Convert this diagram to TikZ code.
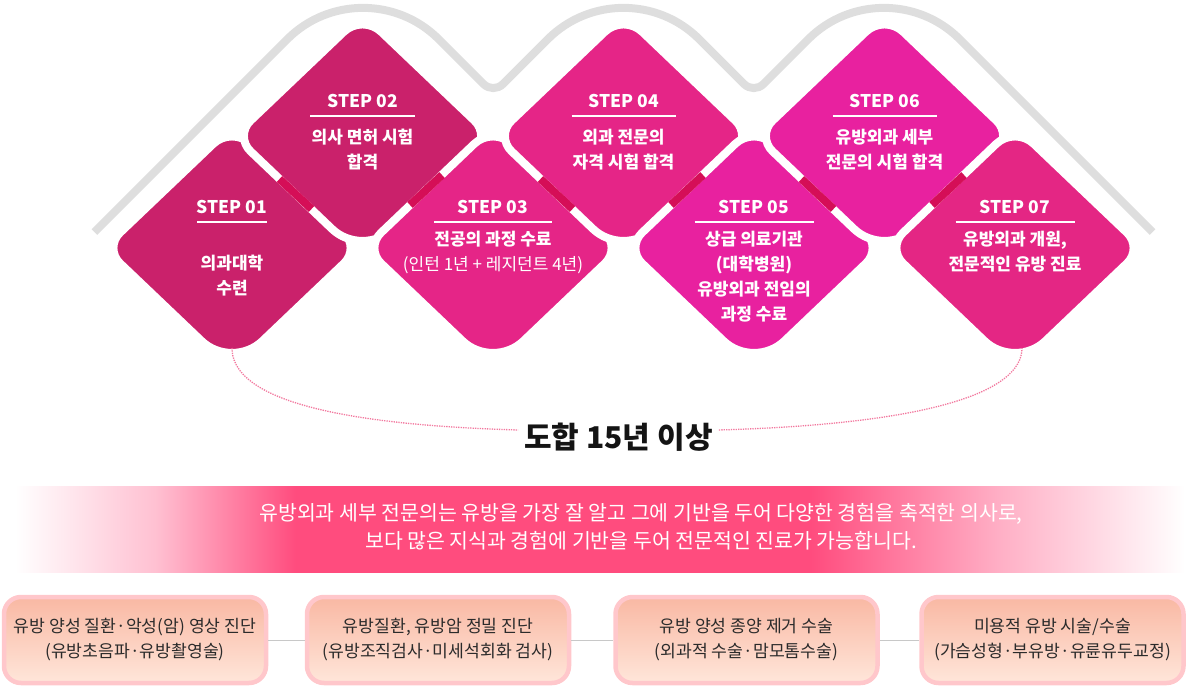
\documentclass[tikz,border=0pt]{standalone}
\usepackage{fontspec}
\setmainfont{Noto Sans CJK KR}
\usepackage{tikz}
\usetikzlibrary{calc}
\usepackage{xcolor}
\definecolor{stepcrimson}{HTML}{CA216B}
\definecolor{steprose}{HTML}{E52587}
\definecolor{stepfuchsia}{HTML}{E8219F}
\definecolor{steplast}{HTML}{E42684}
\definecolor{ribbonred}{HTML}{D50E57}
\definecolor{wavegray}{HTML}{DEDEDE}
\definecolor{spanpink}{HTML}{F2789E}
\definecolor{bandpink}{HTML}{FF4C7E}
\definecolor{boxrim}{HTML}{FFC7CB}
\definecolor{boxtop}{HTML}{F9B8A3}
\definecolor{boxbottom}{HTML}{FFE6DA}
\definecolor{boxink}{HTML}{2B2B2B}
\definecolor{linkgray}{HTML}{C8C8C8}
\pgfdeclarehorizontalshading{bandfade}{100bp}{color(0bp)=(white);
  color(25bp)=(white); color(31bp)=(bandpink!35); color(37bp)=(bandpink);
  color(59bp)=(bandpink); color(67bp)=(bandpink!45); color(75bp)=(white);
  color(100bp)=(white)}

\begin{document}
\begin{tikzpicture}[x=1pt,y=-1pt,
  stepshape/.pic={
    \filldraw[fill=#1,draw=white,line width=8pt] ($(0,-122)!26pt!(128,0)$)
      -- ($(128,0)!22pt!(0,-122)$)
      .. controls ($(128,0)!10pt!(0,-122)$) and ($(128,0)!10pt!(0,122)$)
      .. ($(128,0)!22pt!(0,122)$)
      -- ($(0,122)!42pt!(128,0)$)
      .. controls ($(0,122)!19pt!(128,0)$) and ($(0,122)!19pt!(-128,0)$)
      .. ($(0,122)!42pt!(-128,0)$)
      -- ($(-128,0)!22pt!(0,122)$)
      .. controls ($(-128,0)!10pt!(0,122)$) and ($(-128,0)!10pt!(0,-122)$)
      .. ($(-128,0)!22pt!(0,-122)$)
      -- ($(0,-122)!26pt!(-128,0)$)
      .. controls ($(0,-122)!11.5pt!(-128,0)$) and ($(0,-122)!11.5pt!(128,0)$)
      .. ($(0,-122)!26pt!(128,0)$) -- cycle;
  },
  stepribbon/.style={draw=ribbonred,line width=8pt},
  steplabel/.style={text=white,inner sep=0pt,
    font=\bfseries\fontsize{17.5}{22}\selectfont},
  steptext/.style={text=white,inner sep=0pt,anchor=north,align=center,
    font=\bfseries\fontsize{17}{25}\selectfont},
  steprule/.style={white,line width=1.2pt},
  waveband/.style={draw=wavegray,line width=8pt},
  spanline/.style={draw=spanpink,line width=1.3pt,
    dash pattern=on 1.3pt off 1.1pt},
  spantitle/.style={font=\bfseries\fontsize{30}{34}\selectfont,
    text=black!92,inner sep=6pt},
  mottotext/.style={text=white,align=center,inner sep=0pt,
    font=\fontsize{20.5}{28}\selectfont},
  servicebox/.style={draw=boxrim,line width=4.5pt,rounded corners=17pt,
    top color=boxtop,bottom color=boxbottom,minimum width=262pt,
    minimum height=86pt,align=center,text=boxink,inner sep=0pt,
    font=\fontsize{17.2}{25}\selectfont},
  servicelink/.style={draw=linkgray,line width=0.9pt}
]
  \useasboundingbox (0,0) rectangle (1204,688);

  % grey wave behind the steps
  \coordinate (wl) at (94.5,232);
  \coordinate (wp1) at (363,-36.5);
  \coordinate (wv1) at (493.25,93.75);
  \coordinate (wp2) at (623.5,-36.5);
  \coordinate (wv2) at (753.75,93.75);
  \coordinate (wp3) at (884,-36.5);
  \coordinate (wr) at (1152.5,232);
  \draw[waveband] (wl) -- ($(wp1)!107pt!(wl)$)
    .. controls ($(wp1)!48pt!(wl)$) and ($(wp1)!48pt!(wv1)$)
    .. ($(wp1)!107pt!(wv1)$) -- ($(wv1)!14pt!(wp1)$)
    .. controls ($(wv1)!6pt!(wp1)$) and ($(wv1)!6pt!(wp2)$)
    .. ($(wv1)!14pt!(wp2)$) -- ($(wp2)!107pt!(wv1)$)
    .. controls ($(wp2)!48pt!(wv1)$) and ($(wp2)!48pt!(wv2)$)
    .. ($(wp2)!107pt!(wv2)$) -- ($(wv2)!14pt!(wp2)$)
    .. controls ($(wv2)!6pt!(wp2)$) and ($(wv2)!6pt!(wp3)$)
    .. ($(wv2)!14pt!(wp3)$) -- ($(wp3)!107pt!(wv2)$)
    .. controls ($(wp3)!48pt!(wv2)$) and ($(wp3)!48pt!(wr)$)
    .. ($(wp3)!107pt!(wr)$) -- (wr);

  % step centres
  \coordinate (c1) at (232,248);
  \coordinate (c2) at (362.5,136);
  \coordinate (c3) at (493,248);
  \coordinate (c4) at (623.5,136);
  \coordinate (c5) at (754,248);
  \coordinate (c6) at (884.5,136);
  \coordinate (c7) at (1015,248);

  \pic at (c1) {stepshape=stepcrimson};
  \pic at (c2) {stepshape=stepcrimson};
  \pic at (c3) {stepshape=steprose};
  \pic at (c4) {stepshape=steprose};
  \pic at (c5) {stepshape=stepfuchsia};
  \pic at (c6) {stepshape=stepfuchsia};
  \pic at (c7) {stepshape=steplast};

  \draw[stepribbon] ($(c2)+(-83,43)$) -- ($(c2)+(-51,73)$);
  \draw[stepribbon] ($(c3)+(-83,-43)$) -- ($(c3)+(-51,-73)$);
  \draw[stepribbon] ($(c4)+(-83,43)$) -- ($(c4)+(-51,73)$);
  \draw[stepribbon] ($(c5)+(-83,-43)$) -- ($(c5)+(-51,-73)$);
  \draw[stepribbon] ($(c6)+(-83,43)$) -- ($(c6)+(-51,73)$);
  \draw[stepribbon] ($(c7)+(-83,-43)$) -- ($(c7)+(-51,-73)$);

  \node[steplabel] (s1lab) at (232,207) {STEP 01};
  \draw[steprule] ($(s1lab)+(-35,15)$) -- ($(s1lab)+(35,15)$);
  \node[steptext] (s1txt) at (232,254.5) {의과대학\\수련};

  \node[steplabel] (s2lab) at (362.5,101) {STEP 02};
  \draw[steprule] ($(s2lab)+(-52.5,15)$) -- ($(s2lab)+(52.5,15)$);
  \node[steptext] (s2txt) at (362.5,128.5) {의사 면허 시험\\합격};

  \node[steplabel] (s3lab) at (493,207) {STEP 03};
  \draw[steprule] ($(s3lab)+(-59,15)$) -- ($(s3lab)+(59,15)$);
  \node[steptext] (s3txt) at (493,230.5)
    {전공의 과정 수료\\{\mdseries (인턴 1년 + 레지던트 4년)}};

  \node[steplabel] (s4lab) at (623.5,101) {STEP 04};
  \draw[steprule] ($(s4lab)+(-52,15)$) -- ($(s4lab)+(52,15)$);
  \node[steptext] (s4txt) at (623.5,128.5) {외과 전문의\\자격 시험 합격};

  \node[steplabel] (s5lab) at (754,207) {STEP 05};
  \draw[steprule] ($(s5lab)+(-59.5,15)$) -- ($(s5lab)+(59.5,15)$);
  \node[steptext] (s5txt) at (754,230.5)
    {상급 의료기관\\(대학병원)\\유방외과 전임의\\과정 수료};

  \node[steplabel] (s6lab) at (884.5,101) {STEP 06};
  \draw[steprule] ($(s6lab)+(-52,15)$) -- ($(s6lab)+(52,15)$);
  \node[steptext] (s6txt) at (884.5,128.5) {유방외과 세부\\전문의 시험 합격};

  \node[steplabel] (s7lab) at (1015,207) {STEP 07};
  \draw[steprule] ($(s7lab)+(-59.5,15)$) -- ($(s7lab)+(59.5,15)$);
  \node[steptext] (s7txt) at (1015,230.5)
    {유방외과 개원,\\전문적인 유방 진료};

  % total span
  \coordinate (s1bot) at (232,348);
  \coordinate (s7bot) at (1022,348);
  \node[spantitle] (total) at (618.5,437) {도합 15년 이상};
  \draw[spanline] (s1bot) .. controls (232,392) and (310,424) .. (total.176);
  \draw[spanline] (total.4) .. controls (930,424) and (1022,392) .. (s7bot);

  % motto band
  \shade[shading=bandfade] (15,486) rectangle (1185,572);
  \node[mottotext] (motto) at (641,527)
    {유방외과 세부 전문의는 유방을 가장 잘 알고 그에 기반을 두어 다양한 경험을 축적한 의사로,\\
     보다 많은 지식과 경험에 기반을 두어 전문적인 진료가 가능합니다.};

  % services
  \node[servicebox] (box1) at (135,640)
    {유방 양성 질환·악성(암) 영상 진단\\(유방초음파·유방촬영술)};
  \node[servicebox] (box2) at (438,640)
    {유방질환, 유방암 정밀 진단\\(유방조직검사·미세석회화 검사)};
  \node[servicebox] (box3) at (746.5,640)
    {유방 양성 종양 제거 수술\\(외과적 수술·맘모톰수술)};
  \node[servicebox] (box4) at (1052.5,640)
    {미용적 유방 시술/수술\\(가슴성형·부유방·유륜유두교정)};
  \draw[servicelink] (box1) -- (box2);
  \draw[servicelink] (box2) -- (box3);
  \draw[servicelink] (box3) -- (box4);
\end{tikzpicture}
\end{document}
